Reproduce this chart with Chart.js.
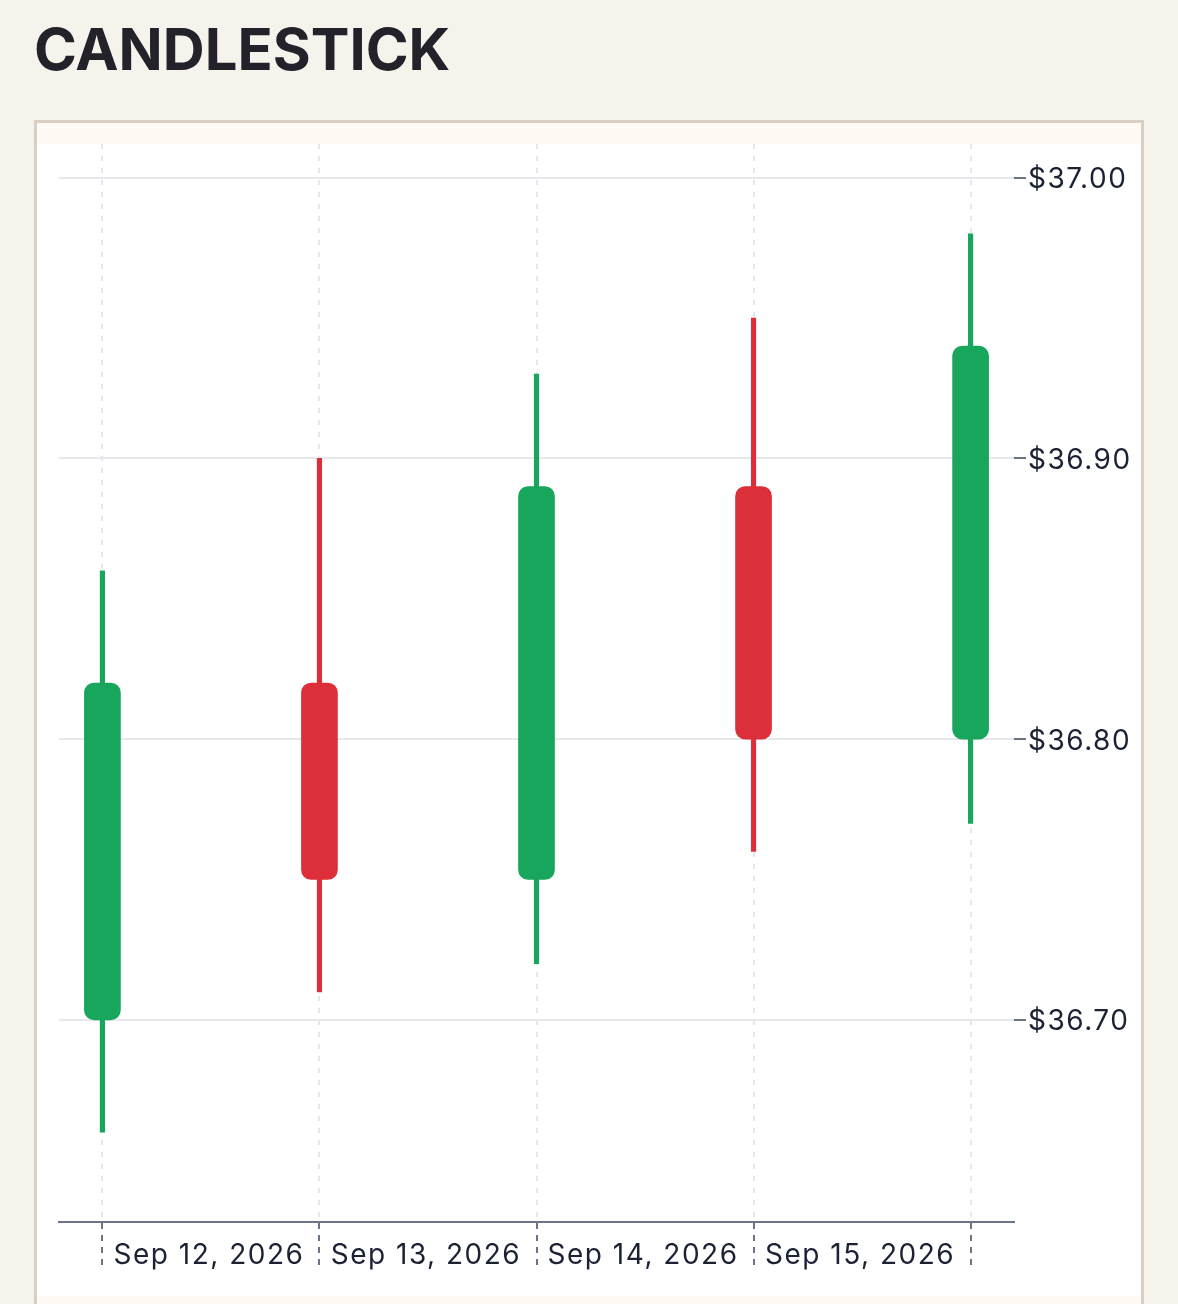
<!DOCTYPE html>
<html>
<head>
<meta charset="utf-8">
<title>Candlestick</title>
<script src="https://cdn.jsdelivr.net/npm/chart.js@4.4.1/dist/chart.umd.min.js"></script>
<style>
    html, body {
        margin: 0;
        padding: 0;
        background: #f6f2ec;
    }
    body {
        width: 1178px;
        height: 1304px;
        overflow: hidden;
        position: relative;
        font-family: Inter, "Noto Sans", sans-serif;
    }
    h1 {
        position: absolute;
        left: 34px;
        top: 20px;
        margin: 0;
        font: 700 58px/1 Inter, sans-serif;
        color: #232129;
    }
    .card {
        position: absolute;
        left: 34px;
        top: 120px;
        width: 1104px;
        height: 1220px;
        border: 3px solid #d9d0c3;
        background: #fffaf3;
    }
    .plot {
        position: absolute;
        left: 0;
        top: 21px;
        width: 1104px;
        height: 1152px;
        background: #ffffff;
    }
</style>
</head>
<body>
<h1>CANDLESTICK</h1>
<div class="card">
    <div class="plot"><canvas id="candle-chart"></canvas></div>
</div>

<script>
// Datos de las velas (una por día)
const dateLabels = ['Sep 12, 2026', 'Sep 13, 2026', 'Sep 14, 2026', 'Sep 15, 2026'];
const openPrices  = [36.70, 36.82, 36.75, 36.89, 36.80];
const highPrices  = [36.86, 36.90, 36.93, 36.95, 36.98];
const lowPrices   = [36.66, 36.71, 36.72, 36.76, 36.77];
const closePrices = [36.82, 36.75, 36.89, 36.80, 36.94];
const priceTicks  = [36.70, 36.80, 36.90, 37.00];

const UP_COLOR = '#18a55c';
const DOWN_COLOR = '#dc2f3a';

document.addEventListener('DOMContentLoaded', function() {
    initCandleChart();
});

/**
 * Espaciado entre letras para los textos del canvas
 * (el contexto se reinicia al cambiar de tamaño, así que se vuelve a poner)
 */
var letterSpacingPlugin = {
    id: 'letterSpacing',
    beforeLayout: function(chart) {
        chart.ctx.letterSpacing = '1.5px';
    },
    beforeDraw: function(chart) {
        chart.ctx.letterSpacing = '1.5px';
    }
};

/**
 * Dibuja el gráfico de velas con barras flotantes
 */
function initCandleChart() {
    var ctx = document.getElementById('candle-chart');

    var candleColors = openPrices.map(function(open, i) {
        return closePrices[i] >= open ? UP_COLOR : DOWN_COLOR;
    });

    var bodies = openPrices.map(function(open, i) {
        return { x: i, y: [open, closePrices[i]] };
    });
    var wicks = lowPrices.map(function(low, i) {
        return { x: i, y: [low, highPrices[i]] };
    });

    // margen del 10% del rango arriba y abajo
    var lo = Math.min.apply(null, lowPrices);
    var hi = Math.max.apply(null, highPrices);
    var pad = (hi - lo) * 0.1;

    // ticks del eje x: velas en enteros, fechas en los medios
    var xTicks = [];
    for (var i = 0; i < openPrices.length; i++) {
        xTicks.push(i);
        if (i < dateLabels.length) xTicks.push(i + 0.5);
    }
    var isCandleTick = function(v) { return Math.abs(v - Math.round(v)) < 1e-6; };

    Chart.defaults.font.family = 'Inter, "Noto Sans", sans-serif';

    new Chart(ctx, {
        type: 'bar',
        data: {
            datasets: [{
                label: 'Cuerpo',
                data: bodies,
                backgroundColor: candleColors,
                borderWidth: 0,
                borderRadius: 10,
                borderSkipped: false,
                barThickness: 36,
                grouped: false
            }, {
                label: 'Mecha',
                data: wicks,
                backgroundColor: candleColors,
                borderWidth: 0,
                borderSkipped: false,
                barThickness: 4.5,
                grouped: false
            }]
        },
        plugins: [letterSpacingPlugin],
        options: {
            responsive: true,
            maintainAspectRatio: false,
            animation: false,
            layout: {
                padding: { left: 22, right: 0, top: 0, bottom: 0 }
            },
            plugins: {
                legend: { display: false },
                tooltip: { enabled: false }
            },
            scales: {
                x: {
                    type: 'linear',
                    offset: false,
                    min: -0.2,
                    max: openPrices.length - 1 + 0.2,
                    afterBuildTicks: function(axis) {
                        axis.ticks = xTicks.map(function(v) { return { value: v }; });
                    },
                    afterFit: function(axis) {
                        axis.height = 74;
                        axis.paddingLeft = 0;
                        axis.paddingRight = 0;
                    },
                    grid: {
                        offset: false,
                        lineWidth: 2,
                        color: function(c) {
                            return c.tick && isCandleTick(c.tick.value) ? '#e3e8ef' : 'rgba(0,0,0,0)';
                        },
                        tickColor: function(c) {
                            return c.tick && isCandleTick(c.tick.value) ? '#6b7589' : 'rgba(0,0,0,0)';
                        },
                        tickLength: 43,
                        tickBorderDash: [6, 6]
                    },
                    border: {
                        display: true,
                        color: '#6b7589',
                        width: 2,
                        dash: [5, 7]
                    },
                    ticks: {
                        autoSkip: false,
                        maxRotation: 0,
                        minRotation: 0,
                        padding: -26,
                        labelOffset: -2,
                        color: '#1b2233',
                        font: { size: 28 },
                        callback: function(value) {
                            if (isCandleTick(value)) return '';
                            return dateLabels[Math.floor(value)];
                        }
                    }
                },
                y: {
                    position: 'right',
                    min: lo - pad,
                    max: hi + pad,
                    afterBuildTicks: function(axis) {
                        axis.ticks = priceTicks.map(function(v) { return { value: v }; });
                    },
                    afterFit: function(axis) {
                        axis.width = 127;
                        axis.paddingTop = 0;
                        axis.paddingBottom = 0;
                    },
                    grid: {
                        lineWidth: 2,
                        color: '#e6e8ec',
                        tickColor: '#6b7280',
                        tickLength: 12
                    },
                    border: { display: false },
                    ticks: {
                        padding: 2,
                        labelOffset: 2,
                        color: '#1b2233',
                        font: { size: 28 },
                        callback: function(value) {
                            return '$' + Number(value).toFixed(2);
                        }
                    }
                }
            }
        }
    });
}
</script>
</body>
</html>
